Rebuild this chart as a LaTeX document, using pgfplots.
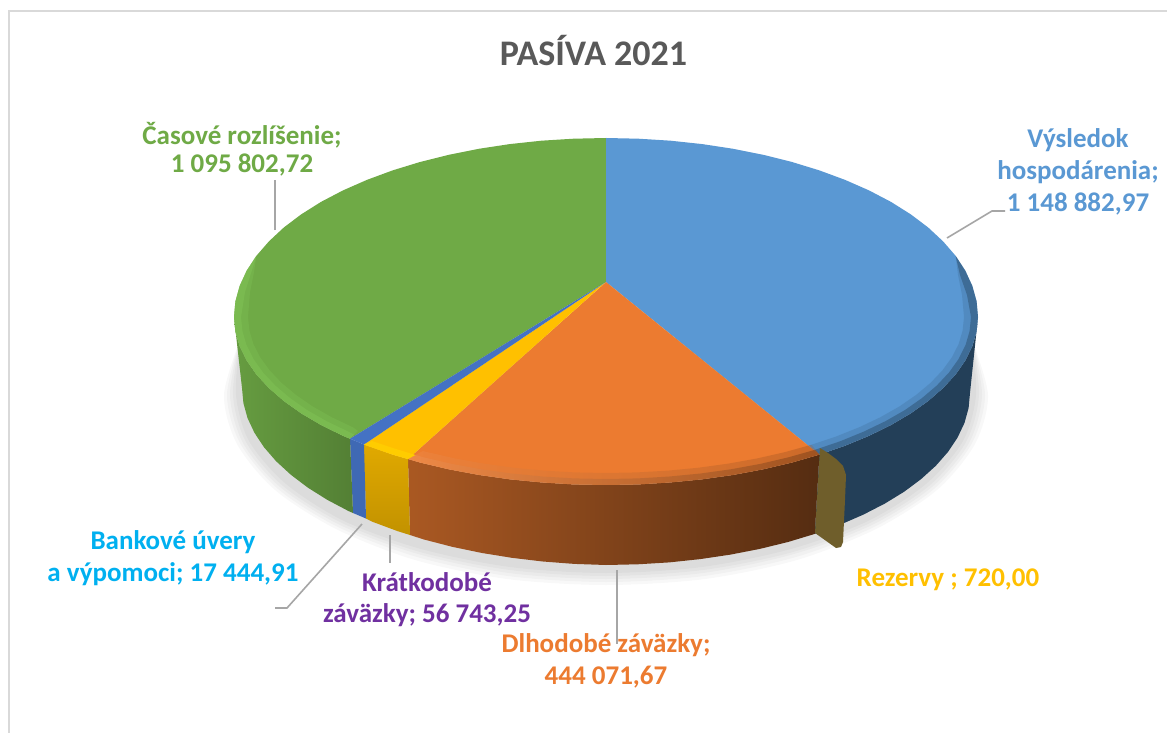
\documentclass[border=0pt]{standalone}
\usepackage{pgfplots}
\pgfplotsset{compat=1.18}
\usepackage{fontspec}
\setmainfont{Carlito}

\definecolor{cBlue}{HTML}{5A98D3}
\definecolor{cOrange}{HTML}{EC7B30}
\definecolor{cGreen}{HTML}{6FAA46}
\definecolor{cYellow}{HTML}{FFC000}
\definecolor{cDkBlue}{HTML}{4472C4}
\definecolor{cTitle}{HTML}{595959}
\definecolor{cLeader}{HTML}{A6A6A6}
\definecolor{cFrame}{HTML}{D9D9D9}
\definecolor{cCyan}{HTML}{00B0F0}
\definecolor{cPurple}{HTML}{7030A0}
\definecolor{cNavy}{HTML}{233F58}
\definecolor{cOlive}{HTML}{6F5E2B}
\definecolor{cRimGreen}{HTML}{80C255}
\definecolor{cRimYellow}{HTML}{FFCC00}

\tikzset{
    lbl/.style={font=\bfseries\fontsize{27}{32}\selectfont, anchor=center, inner sep=0pt},
    face/.style={draw=none},
    shadow/.style={draw=none, fill=black, fill opacity=0.028, smooth},
    leader/.style={draw=cLeader, line width=1.6pt},
}

\begin{document}
\begin{tikzpicture}
\begin{axis}[
    scale only axis,
    width=1167pt,
    height=733pt,
    xmin=0, xmax=1167,
    ymin=0, ymax=733,
    y dir=reverse,
    hide axis,
    no markers,
]
% page background, keeps the page size
\addplot[face, fill=white] coordinates {(0,0)(1167,0)(1167,733)(0,733)} --cycle;

% frame of the chart area
\addplot[draw=cFrame, line width=2pt] coordinates {(9,733)(9,11)(1167,11)};

% soft shadow under the pie
\addplot[shadow] coordinates {(972,340)(988,395)(975,444)(937,490)(876,529)(797,560)(705,579)(606,585)(507,579)(415,560)(336,529)(275,490)(237,444)(224,395)(240,340)} --cycle;
\addplot[shadow] coordinates {(972,340)(985,395)(972,443)(934,489)(874,527)(796,557)(704,576)(606,582)(508,576)(417,557)(338,527)(278,489)(240,443)(227,395)(240,340)} --cycle;
\addplot[shadow] coordinates {(972,340)(982,395)(969,443)(932,487)(872,525)(794,554)(703,573)(606,579)(509,573)(418,554)(340,525)(280,487)(243,443)(230,395)(240,340)} --cycle;
\addplot[shadow] coordinates {(972,340)(979,395)(966,442)(929,486)(870,523)(793,552)(703,570)(606,576)(510,570)(420,552)(342,523)(283,486)(246,442)(233,395)(240,340)} --cycle;
\addplot[shadow] coordinates {(972,340)(976,395)(963,441)(926,484)(868,521)(791,549)(702,567)(606,573)(510,567)(421,549)(344,521)(286,484)(249,441)(236,395)(240,340)} --cycle;

% side walls
\addplot[face, fill=cNavy] coordinates {
(819.4,454.6)(845.1,445.7)(869,435.8)(891,425)(910.7,413.4)(928.2,401)(943.1,388)(955.6,374.5)(965.3,360.5)(972.3,346.2)(976.6,331.6)(978,317)
(970,393)(968.6,408)(964.5,422.9)(957.6,437.5)(948.1,451.8)(935.9,465.7)(921.2,479)(904.2,491.7)(884.8,503.6)(863.4,514.6)(840,524.8)(814.8,533.9)} --cycle;
\addplot[face, left color=cOrange!72!black, right color=cOrange!36!black] coordinates {
(408,459)(420,462.5)(448.8,469.3)(478.8,474.9)(509.7,479.3)(541.4,482.4)(573.6,484.4)(606,485)(638.4,484.4)(670.6,482.4)(702.3,479.3)(733.2,474.9)(763.2,469.3)(792,462.5)(819.4,454.6)
(814.8,533.9)(788,542)(759.8,548.9)(730.5,554.6)(700.2,559.1)(669.2,562.4)(637.7,564.3)(606,565)(574.3,563.9)(542.8,561.5)(511.8,557.8)(481.5,552.9)(452.2,546.8)(424,539.5)(410,535)} --cycle;
\addplot[face, top color=cYellow!88!black, bottom color=cYellow!76!black] coordinates {
(364,444.5)(392.6,454.6)(408,459)(410,535)(397.2,531)(372,521.6)(366,518.5)} --cycle;
\addplot[face, fill=cDkBlue!92!black] coordinates {(350,438.7)(364,444.5)(366,518.5)(353,513)} --cycle;
\addplot[face, left color=cGreen!92!black, right color=cGreen!75!black] coordinates {
(350,438.7)(343,435.8)(321,425)(301.3,413.4)(283.8,401)(268.9,388)(256.4,374.5)(246.7,360.5)(239.7,346.2)(235.4,331.6)(234,317)
(242,388)(243.4,403)(247.5,418)(254.4,432.7)(263.9,447.1)(276.1,461.2)(290.8,474.7)(307.8,487.6)(327.2,499.8)(348.6,511.1)(353,513)} --cycle;

% top face slices
\addplot[face, fill=cGreen] coordinates {
(606,282)(606,138)(573.6,138.7)(541.4,140.7)(509.7,144.1)(478.8,148.8)(448.8,154.8)(420,162)(392.6,170.4)(366.9,179.9)(343,190.4)(321,201.9)(301.3,214.3)(283.8,227.5)(268.9,241.4)(256.4,255.8)(246.7,270.7)(239.7,285.9)(235.4,301.4)(234,317)
(235.4,331.6)(239.7,346.2)(246.7,360.5)(256.4,374.5)(268.9,388)(283.8,401)(301.3,413.4)(321,425)(343,435.8)(350,438.7)} --cycle;
\addplot[face, fill=cBlue] coordinates {
(606,282)(606,138)(638.4,138.7)(670.6,140.7)(702.3,144.1)(733.2,148.8)(763.2,154.8)(792,162)(819.4,170.4)(845.1,179.9)(869,190.4)(891,201.9)(910.7,214.3)(928.2,227.5)(943.1,241.4)(955.6,255.8)(965.3,270.7)(972.3,285.9)(976.6,301.4)(978,317)
(976.6,331.6)(972.3,346.2)(965.3,360.5)(955.6,374.5)(943.1,388)(928.2,401)(910.7,413.4)(891,425)(869,435.8)(845.1,445.7)(819.4,454.6)} --cycle;
\addplot[face, fill=cOrange] coordinates {
(606,282)(819.4,454.6)(792,462.5)(763.2,469.3)(733.2,474.9)(702.3,479.3)(670.6,482.4)(638.4,484.4)(606,485)(573.6,484.4)(541.4,482.4)(509.7,479.3)(478.8,474.9)(448.8,469.3)(420,462.5)(408,459)} --cycle;
\addplot[face, fill=cYellow] coordinates {(606,282)(408,459)(392.6,454.6)(366.9,445.7)(364,444.5)} --cycle;
\addplot[face, fill=cDkBlue] coordinates {(606,282)(364,444.5)(350,438.7)} --cycle;

% bevel along the outer edge, a wide faint band and a narrow stronger one
\addplot[face, fill=cNavy, fill opacity=0.15] coordinates {
(819.4,454.6)(845.1,445.7)(869,435.8)(891,425)(910.7,413.4)(928.2,401)(943.1,388)(955.6,374.5)(965.3,360.5)(972.3,346.2)(976.6,331.6)(978,317)(976.6,301.4)(972.3,285.9)(965.3,270.7)(955.6,255.8)
(958,275)(962,295)(964,317)(962.6,330.6)(958.6,344.1)(951.8,357.4)(942.4,370.4)(930.5,382.9)(916,395)(899.3,406.5)(880.2,417.3)(859.1,427.3)(836.1,436.5)(811.3,444.8)} --cycle;
\addplot[face, fill=cNavy, fill opacity=0.4] coordinates {
(819.4,454.6)(845.1,445.7)(869,435.8)(891,425)(910.7,413.4)(928.2,401)(943.1,388)(955.6,374.5)(965.3,360.5)(972.3,346.2)(976.6,331.6)(978,317)(976.6,301.4)(972.3,285.9)(965.3,270.7)(955.6,255.8)
(960,275)(967,295)(971,317)(969.6,331.1)(965.5,345.2)(958.6,359)(949,372.5)(936.8,385.5)(922.1,398)(905,410)(885.6,421.1)(864,431.5)(840.6,441.1)(815.4,449.7)} --cycle;

\addplot[face, left color=cOrange!85!white, right color=cOrange!62!black, fill opacity=0.35] coordinates {
(408,459)(420,462.5)(448.8,469.3)(478.8,474.9)(509.7,479.3)(541.4,482.4)(573.6,484.4)(606,485)(638.4,484.4)(670.6,482.4)(702.3,479.3)(733.2,474.9)(763.2,469.3)(792,462.5)(819.4,454.6)
(811.3,444.8)(785,452.1)(757.3,458.4)(728.4,463.6)(698.7,467.7)(668.2,470.6)(637.2,472.4)(606,473)(574.8,472.4)(543.8,470.6)(513.3,467.7)(483.6,463.6)(454.7,458.4)(427,452.1)(423,451)} --cycle;
\addplot[face, left color=cOrange!85!white, right color=cOrange!55!black, fill opacity=0.6] coordinates {
(408,459)(420,462.5)(448.8,469.3)(478.8,474.9)(509.7,479.3)(541.4,482.4)(573.6,484.4)(606,485)(638.4,484.4)(670.6,482.4)(702.3,479.3)(733.2,474.9)(763.2,469.3)(792,462.5)(819.4,454.6)
(815.4,449.7)(788.5,457.3)(760.3,463.9)(730.8,469.3)(700.5,473.5)(669.4,476.5)(637.8,478.4)(606,479)(574.2,478.4)(542.6,476.5)(511.5,473.5)(481.2,469.3)(451.8,463.9)(423.5,457.3)(415.5,455)} --cycle;

\addplot[face, fill=cRimYellow] coordinates {(364,444.5)(392.6,454.6)(408,459)(415.5,455)(396,449)(372,441)} --cycle;

\addplot[face, fill=cRimGreen, fill opacity=0.35] coordinates {
(350,438.7)(343,435.8)(321,425)(301.3,413.4)(283.8,401)(268.9,388)(256.4,374.5)(246.7,360.5)(239.7,346.2)(235.4,331.6)(234,317)(235.4,301.4)(239.7,285.9)(246.7,270.7)(256.4,255.8)
(254,272)(250,292)(248,317)(249.4,330.6)(253.4,344.1)(260.2,357.4)(269.6,370.4)(281.5,382.9)(296,395)(312.7,406.5)(331.8,417.3)(352.9,427.3)(358,431)} --cycle;
\addplot[face, fill=cRimGreen, fill opacity=0.55] coordinates {
(350,438.7)(343,435.8)(321,425)(301.3,413.4)(283.8,401)(268.9,388)(256.4,374.5)(246.7,360.5)(239.7,346.2)(235.4,331.6)(234,317)(235.4,301.4)(239.7,285.9)(246.7,270.7)(256.4,255.8)
(252,270)(245,292)(241,317)(242.4,331.1)(246.5,345.2)(253.4,359)(263,372.5)(275.2,385.5)(289.9,398)(307,410)(326.4,421.1)(348,431.5)(354,434.5)} --cycle;

% the Rezervy slice, pulled out as a thin tab
\addplot[face, fill=cOlive] coordinates {
(820,448)(828,453)(836,459)(843,466)(846,475)(845,500)(843,542)(841,547)(836,548)(829,543)(815,533)} --cycle;

% leader lines
\addplot[leader] coordinates {(947,238)(992,211)(1005,211)};
\addplot[leader] coordinates {(275,230)(275,180)};
\addplot[leader] coordinates {(362,524)(287,608)(275,608)};
\addplot[leader] coordinates {(390,535)(390,563)};
\addplot[leader] coordinates {(617,570)(617,644)};

% title and data labels
\node[font=\bfseries\fontsize{36}{40}\selectfont, text=cTitle, inner sep=0pt] at (axis cs:593.5,51) {PASÍVA 2021};
\node[lbl, text=cBlue] at (axis cs:1078,140) {Výsledok};
\node[lbl, text=cBlue] at (axis cs:1078,172) {hospodárenia;};
\node[lbl, text=cBlue] at (axis cs:1078,204) {1 148 882,97};
\node[lbl, text=cGreen] at (axis cs:242,135) {Časové rozlíšenie;};
\node[lbl, text=cGreen] at (axis cs:242,165.5) {1 095 802,72};
\node[lbl, text=cCyan] at (axis cs:173,542) {Bankové úvery};
\node[lbl, text=cCyan] at (axis cs:173,574) {a výpomoci; 17 444,91};
\node[lbl, text=cPurple] at (axis cs:427,582) {Krátkodobé};
\node[lbl, text=cPurple] at (axis cs:427,615) {záväzky; 56 743,25};
\node[lbl, text=cOrange] at (axis cs:606,645) {Dlhodobé záväzky;};
\node[lbl, text=cOrange] at (axis cs:606,677) {444 071,67};
\node[lbl, text=cYellow] at (axis cs:948,580) {Rezervy ; 720,00};
\end{axis}
\end{tikzpicture}
\end{document}
